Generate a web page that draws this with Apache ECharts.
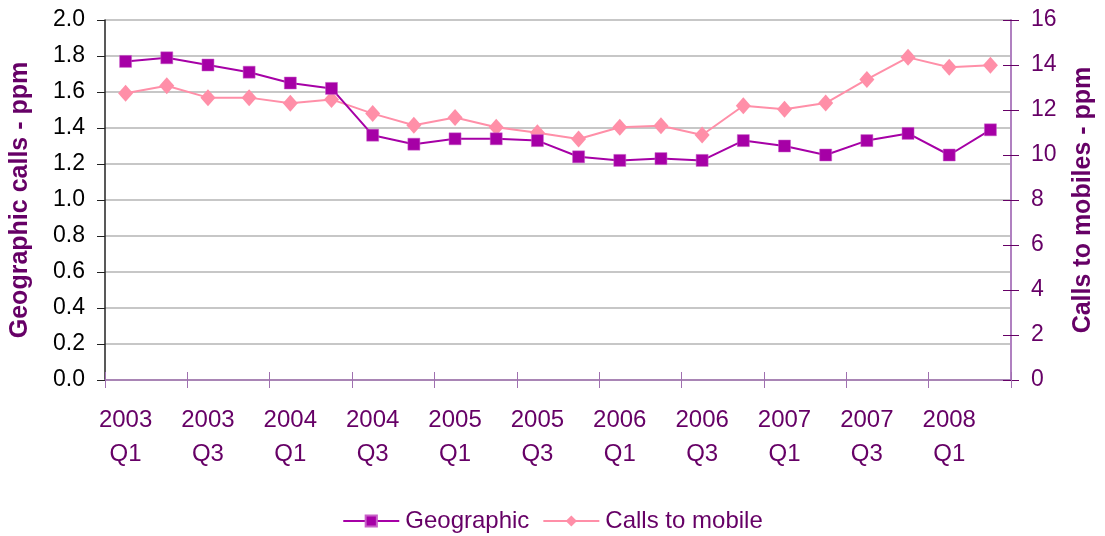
<!DOCTYPE html>
<html>
<head>
<meta charset="utf-8">
<script src="https://cdn.jsdelivr.net/npm/echarts@6/dist/echarts.min.js"></script>
<style>
html,body{margin:0;padding:0;background:#fff;}
#chart{width:1105px;height:536px;}
</style>
</head>
<body>
<div id="chart"></div>
<script>
const categories = ['2003\nQ1','2003\nQ2','2003\nQ3','2003\nQ4','2004\nQ1','2004\nQ2','2004\nQ3','2004\nQ4',
  '2005\nQ1','2005\nQ2','2005\nQ3','2005\nQ4','2006\nQ1','2006\nQ2','2006\nQ3','2006\nQ4',
  '2007\nQ1','2007\nQ2','2007\nQ3','2007\nQ4','2008\nQ1','2008\nQ2'];
const geographic = [1.77,1.79,1.75,1.71,1.65,1.62,1.36,1.31,1.34,1.34,1.33,1.24,1.22,1.23,1.22,1.33,1.30,1.25,1.33,1.37,1.25,1.39];
const callsToMobile = [12.74,13.08,12.55,12.55,12.30,12.47,11.84,11.32,11.67,11.23,10.99,10.71,11.23,11.30,10.89,12.19,12.03,12.31,13.36,14.34,13.90,13.99];
const leftTitle = 'Geographic calls - ppm';
const rightTitle = 'Calls to mobiles - ppm';

const purple = '#660066';
const geoColor = '#A600A6';
const mobColor = '#FF8FA8';
const font = 'Liberation Sans, Arial, sans-serif';

const chart = echarts.init(document.getElementById('chart'), null, {renderer:'canvas'});
chart.setOption({
  animation:false,
  backgroundColor:'#fff',
  textStyle:{fontFamily:font},
  grid:{left:104, right:94, top:20, bottom:156, containLabel:false},
  legend:{
    top:509, left:'center', padding:0,
    itemWidth:56, itemHeight:14, itemGap:13,
    textStyle:{color:purple, fontSize:24, fontFamily:font, padding:[0,0,0,1]},
    data:['Geographic','Calls to mobile']
  },
  xAxis:[{
    type:'category', data:categories, boundaryGap:true,
    axisLine:{lineStyle:{color:'#A070B0', width:1.5}},
    axisTick:{show:true, interval:1, length:8, lineStyle:{color:'#A070B0'}},
    axisLabel:{interval:1, color:purple, fontSize:24, lineHeight:34, margin:23, fontFamily:font},
    splitLine:{show:false}
  },{
    type:'category', data:categories, boundaryGap:true, position:'bottom',
    axisLine:{show:false},
    axisTick:{show:true, inside:true, interval:1, length:8, lineStyle:{color:'#A070B0'}},
    axisLabel:{show:false}, splitLine:{show:false}
  }],
  yAxis:[{
    type:'value', min:0, max:2, interval:0.2, position:'left',
    name:leftTitle, nameLocation:'middle', nameGap:72, nameRotate:90,
    nameTextStyle:{color:purple, fontSize:25, fontWeight:'bold', fontFamily:font},
    axisLine:{show:true, lineStyle:{color:'#222', width:1.5}},
    axisTick:{show:true, length:8, lineStyle:{color:'#222'}},
    axisLabel:{color:'#000', fontSize:23, margin:20, fontFamily:font, formatter:v=>v.toFixed(1)},
    splitLine:{show:true, lineStyle:{color:'#B4B4B4', width:1.5}}
  },{
    type:'value', min:0, max:16, interval:2, position:'right',
    name:rightTitle, nameLocation:'middle', nameGap:60, nameRotate:90,
    nameTextStyle:{color:purple, fontSize:25, fontWeight:'bold', fontFamily:font},
    axisLine:{show:true, lineStyle:{color:'#B080C0', width:2}},
    axisTick:{show:true, length:8, lineStyle:{color:purple}},
    axisLabel:{color:purple, fontSize:23, margin:20, fontFamily:font},
    splitLine:{show:false}
  },{
    type:'value', min:0, max:16, interval:2, position:'right',
    axisLine:{show:false},
    axisTick:{show:true, inside:true, length:8, lineStyle:{color:purple}},
    axisLabel:{show:false}, splitLine:{show:false}
  }],
  series:[{
    name:'Geographic', type:'line', data:geographic, yAxisIndex:0,
    symbol:'rect', symbolSize:12,
    lineStyle:{color:geoColor, width:2},
    itemStyle:{color:geoColor, borderColor:'#C860C8', borderWidth:0.5},
    z:3
  },{
    name:'Calls to mobile', type:'line', data:callsToMobile, yAxisIndex:1,
    symbol:'diamond', symbolSize:[15,17],
    lineStyle:{color:mobColor, width:2},
    itemStyle:{color:mobColor},
    z:2
  }]
});
</script>
</body>
</html>
